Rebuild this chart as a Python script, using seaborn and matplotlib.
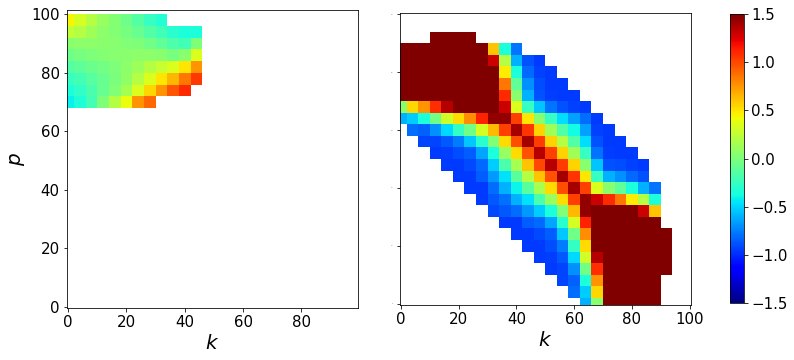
import numpy as np
import matplotlib
matplotlib.use("Agg")
import matplotlib.pyplot as plt
import seaborn as sns

N = np.nan

# Left panel: values on a coarse grid (cell centres every 4 units)
left_k = [0, 4, 8, 12, 16, 20, 24, 28, 32, 36, 40, 44]
left_p = [70, 74, 78, 82, 86, 90, 94, 98]
left_vals = [
    [-0.42, -0.33, -0.20, 0.00, 0.20, 0.40, 0.75, 0.90, N, N, N, N],
    [-0.35, -0.28, -0.18, -0.08, 0.02, 0.15, 0.35, 0.55, 0.75, 0.95, 1.10, N],
    [-0.25, -0.20, -0.14, -0.08, -0.01, 0.08, 0.20, 0.35, 0.50, 0.65, 0.85, 1.05],
    [-0.15, -0.11, -0.07, -0.03, 0.01, 0.06, 0.12, 0.20, 0.28, 0.35, 0.50, 0.75],
    [-0.05, -0.02, 0.01, 0.03, 0.04, 0.05, 0.06, 0.07, 0.05, -0.02, 0.05, 0.35],
    [0.05, 0.06, 0.06, 0.05, 0.04, 0.02, 0.00, -0.04, -0.10, -0.17, -0.22, 0.00],
    [0.25, 0.20, 0.13, 0.07, 0.03, -0.02, -0.08, -0.15, -0.22, -0.30, -0.35, -0.35],
    [0.45, 0.32, 0.20, 0.10, 0.03, -0.05, -0.15, -0.25, -0.32, N, N, N],
]

# Right panel: values on a coarse grid (cell centres every 4 units)
right_k = [0, 4, 8, 12, 16, 20, 24, 28, 32, 36, 40, 44,
           48, 52, 56, 60, 64, 68, 72, 76, 80, 84, 88, 92]
right_p = [0, 4, 8, 12, 16, 20, 24, 28, 32, 36, 40, 44,
           48, 52, 56, 60, 64, 68, 72, 76, 80, 84, 88, 92]
right_vals = [
    # p = 0
    [N, N, N, N, N, N, N, N, N, N, N, N, N, N, N, N, -0.6, 0.05, 1.6, 2.0, 2.0, 2.0, 2.0, N],
    # p = 4
    [N, N, N, N, N, N, N, N, N, N, N, N, N, N, N, -0.8, -0.52, 0.55, 2.0, 2.0, 2.0, 2.0, 2.0, N],
    # p = 8
    [N, N, N, N, N, N, N, N, N, N, N, N, N, N, -0.92, -0.84, -0.34, 0.75, 2.0, 2.0, 2.0, 2.0, 2.0, N],
    # p = 12
    [N, N, N, N, N, N, N, N, N, N, N, N, N, -0.95, -0.92, -0.7, -0.04, 1.08, 2.0, 2.0, 2.0, 2.0, 2.0, 2.0],
    # p = 16
    [N, N, N, N, N, N, N, N, N, N, N, N, -0.95, -0.94, -0.86, -0.49, 0.3, 1.35, 2.0, 2.0, 2.0, 2.0, 2.0, 2.0],
    # p = 20
    [N, N, N, N, N, N, N, N, N, N, N, -0.95, -0.95, -0.9, -0.76, -0.26, 0.53, 2.0, 2.0, 2.0, 2.0, 2.0, 2.0, 2.0],
    # p = 24
    [N, N, N, N, N, N, N, N, N, N, -0.95, -0.95, -0.91, -0.85, -0.53, -0.04, 0.78, 2.0, 2.0, 2.0, 2.0, 2.0, 2.0, 2.0],
    # p = 28
    [N, N, N, N, N, N, N, N, N, -0.95, -0.95, -0.85, -0.81, -0.64, -0.3, 0.32, 1.12, 2.0, 2.0, 2.0, 2.0, 2.0, 2.0, N],
    # p = 32
    [N, N, N, N, N, N, N, N, -0.91, -0.86, -0.8, -0.67, -0.52, -0.35, 0.02, 0.64, 1.45, 2.0, 2.0, 2.0, 2.0, 1.3, 0.6, N],
    # p = 36
    [N, N, N, N, N, N, N, -0.95, -0.86, -0.79, -0.6, -0.46, -0.18, 0.1, 0.53, 1.03, 1.45, 1.3, 1.1, 0.85, 0.48, 0.2, -0.35, N],
    # p = 40
    [N, N, N, N, N, N, -0.95, -0.95, -0.8, -0.6, -0.41, -0.12, 0.16, 0.53, 0.98, 1.4, 1.03, 0.35, 0.05, -0.1, -0.34, -0.6, -0.78, N],
    # p = 44
    [N, N, N, N, N, -0.95, -0.95, -0.85, -0.67, -0.46, -0.12, 0.21, 0.6, 0.97, 1.4, 1.06, 0.5, -0.25, -0.6, -0.7, -0.81, -0.88, N, N],
    # p = 48
    [N, N, N, N, -0.95, -0.95, -0.91, -0.81, -0.52, -0.18, 0.16, 0.6, 1.0, 1.35, 1.04, 0.56, 0.05, -0.55, -0.88, -0.9, -0.93, -0.95, N, N],
    # p = 52
    [N, N, N, -0.95, -0.94, -0.9, -0.85, -0.64, -0.35, 0.1, 0.53, 0.97, 1.35, 1.02, 0.56, 0.13, -0.25, -0.78, -0.94, -0.95, -0.95, N, N, N],
    # p = 56
    [N, N, -0.92, -0.92, -0.86, -0.76, -0.53, -0.3, 0.02, 0.53, 0.98, 1.4, 1.04, 0.56, 0.21, -0.16, -0.48, -0.88, -0.95, -0.95, N, N, N, N],
    # p = 60
    [N, -0.8, -0.84, -0.7, -0.49, -0.26, -0.04, 0.32, 0.64, 1.03, 1.4, 1.06, 0.56, 0.13, -0.16, -0.38, -0.65, -0.93, -0.95, N, N, N, N, N],
    # p = 64
    [-0.6, -0.52, -0.34, -0.04, 0.3, 0.53, 0.78, 1.12, 1.45, 1.45, 1.03, 0.5, 0.05, -0.25, -0.48, -0.65, -0.8, -0.95, N, N, N, N, N, N],
    # p = 68
    [0.05, 0.55, 0.75, 1.08, 1.35, 2.0, 2.0, 2.0, 2.0, 1.3, 0.35, -0.25, -0.55, -0.78, -0.88, -0.93, -0.95, N, N, N, N, N, N, N],
    # p = 72
    [1.6, 2.0, 2.0, 2.0, 2.0, 2.0, 2.0, 2.0, 2.0, 1.1, 0.05, -0.6, -0.88, -0.94, -0.95, -0.95, N, N, N, N, N, N, N, N],
    # p = 76
    [2.0, 2.0, 2.0, 2.0, 2.0, 2.0, 2.0, 2.0, 2.0, 0.85, -0.1, -0.7, -0.9, -0.95, -0.95, N, N, N, N, N, N, N, N, N],
    # p = 80
    [2.0, 2.0, 2.0, 2.0, 2.0, 2.0, 2.0, 2.0, 2.0, 0.48, -0.34, -0.81, -0.93, -0.95, N, N, N, N, N, N, N, N, N, N],
    # p = 84
    [2.0, 2.0, 2.0, 2.0, 2.0, 2.0, 2.0, 2.0, 1.3, 0.2, -0.6, -0.88, -0.95, N, N, N, N, N, N, N, N, N, N, N],
    # p = 88
    [2.0, 2.0, 2.0, 2.0, 2.0, 2.0, 2.0, 2.0, 0.6, -0.35, -0.78, N, N, N, N, N, N, N, N, N, N, N, N, N],
    # p = 92
    [N, N, N, 2.0, 2.0, 2.0, 2.0, N, N, N, N, N, N, N, N, N, N, N, N, N, N, N, N, N],
]

k_ticks_left = [0, 20, 40, 60, 80]
k_ticks_right = [0, 20, 40, 60, 80, 100]
p_ticks = [0, 20, 40, 60, 80, 100]
cbar_ticks = [-1.5, -1.0, -0.5, 0.0, 0.5, 1.0, 1.5]

STEP = 4


def to_idx(values, start):
    # heatmap cell i covers [start + STEP*i - STEP/2, start + STEP*i + STEP/2]
    return [(v - start + STEP / 2) / STEP for v in values]


fig = plt.figure(figsize=(794 / 72, 5), dpi=72)
ax1 = fig.add_axes([66.7 / 794, 52 / 360, 291.6 / 794, 298 / 360])
ax2 = fig.add_axes([399.5 / 794, 55 / 360, 291.5 / 794, 292 / 360])
cax = fig.add_axes([730 / 794, 56.7 / 360, 14 / 794, 289.3 / 360])

sns.heatmap(np.array(left_vals), ax=ax1, cmap="jet", vmin=-1.5, vmax=1.5,
            cbar=False, xticklabels=False, yticklabels=False)
sns.heatmap(np.array(right_vals), ax=ax2, cmap="jet", vmin=-1.5, vmax=1.5,
            cbar_ax=cax, xticklabels=False, yticklabels=False)

# left panel axes
ax1.set_xlim(*to_idx([-0.5, 99.5], left_k[0]))
ax1.set_ylim(*to_idx([-0.5, 101.5], left_p[0]))
ax1.set_xticks(to_idx(k_ticks_left, left_k[0]), labels=[str(t) for t in k_ticks_left])
ax1.set_yticks(to_idx(p_ticks, left_p[0]), labels=[str(t) for t in p_ticks])
ax1.set_xlabel("$k$", fontsize=20)
ax1.set_ylabel("$p$", fontsize=20)

# right panel axes
ax2.set_xlim(*to_idx([-0.5, 100.5], right_k[0]))
ax2.set_ylim(*to_idx([-0.5, 100.5], right_p[0]))
ax2.set_xticks(to_idx(k_ticks_right, right_k[0]), labels=[str(t) for t in k_ticks_right])
ax2.set_yticks(to_idx(p_ticks, right_p[0]), labels=[str(t) for t in p_ticks])
ax2.set_xlabel("$k$", fontsize=20)

for ax in (ax1, ax2):
    ax.tick_params(labelsize=15, length=3.5, width=0.8, direction="out",
                   bottom=True, left=True)
    for spine in ax.spines.values():
        spine.set_visible(True)
        spine.set_linewidth(0.8)
        spine.set_color("black")

# the right panel keeps its y labels, but they are shrunk to tiny dots
ax2.tick_params(axis="y", labelsize=1)

cbar = ax2.collections[0].colorbar
cbar.set_ticks(cbar_ticks)
cbar.ax.tick_params(labelsize=15, length=3.5, width=0.8)
cbar.outline.set_visible(True)
cbar.outline.set_linewidth(0.8)
cbar.outline.set_edgecolor("black")

fig.savefig("out.png", dpi=72)
